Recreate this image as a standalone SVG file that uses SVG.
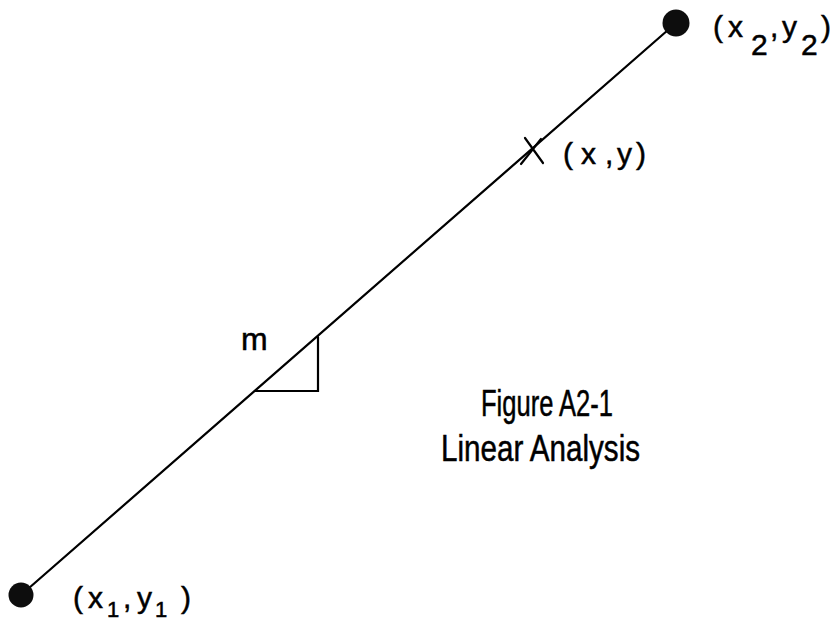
<svg xmlns="http://www.w3.org/2000/svg" width="838" height="623" viewBox="0 0 838 623">
<style>
.ln{stroke:#000;stroke-width:2.2;fill:none;stroke-linecap:round}
.dot{fill:#0d0d0d}
.t{font-family:"Liberation Sans",Arial,sans-serif;fill:#000;stroke:#000;stroke-width:0.5}
.lb{font-size:30px}
.cap{font-size:36px}
</style>
<rect width="838" height="623" fill="#fff"/>
<g id="connectors">
<line class="ln" x1="21" y1="595" x2="676" y2="23"/>
</g>
<g id="p1">
<circle class="dot" cx="21" cy="595" r="12.5"/>
<text class="t lb"><tspan x="73" y="608">(</tspan><tspan x="88" y="608">x</tspan><tspan x="107" y="617" font-size="22">1</tspan><tspan x="123" y="608">,</tspan><tspan x="137" y="608">y</tspan><tspan x="155" y="617" font-size="22">1</tspan><tspan x="181" y="608">)</tspan></text>
</g>
<g id="p2">
<circle class="dot" cx="676" cy="23" r="13.5"/>
<text class="t lb"><tspan x="713" y="37">(</tspan><tspan x="728" y="37">x</tspan><tspan x="751" y="55">2</tspan><tspan x="770" y="37">,</tspan><tspan x="782" y="37">y</tspan><tspan x="801" y="55">2</tspan><tspan x="821" y="37">)</tspan></text>
</g>
<g id="pxy">
<path class="ln" d="M525,138 L543,163 M521,164 L541,139" stroke-width="2.6"/>
<text class="t lb"><tspan x="563" y="164">(</tspan><tspan x="581" y="164">x</tspan><tspan x="605" y="164">,</tspan><tspan x="617" y="164">y</tspan><tspan x="636" y="164">)</tspan></text>
</g>
<g id="slope">
<path class="ln" d="M255,391 H318 V337"/>
<text class="t" font-size="32" x="241" y="350">m</text>
</g>
<g id="caption">
<text class="t cap" x="481" y="416" textLength="132" lengthAdjust="spacingAndGlyphs">Figure A2-1</text>
<text class="t cap" x="441" y="461" textLength="199" lengthAdjust="spacingAndGlyphs">Linear Analysis</text>
</g>
</svg>
